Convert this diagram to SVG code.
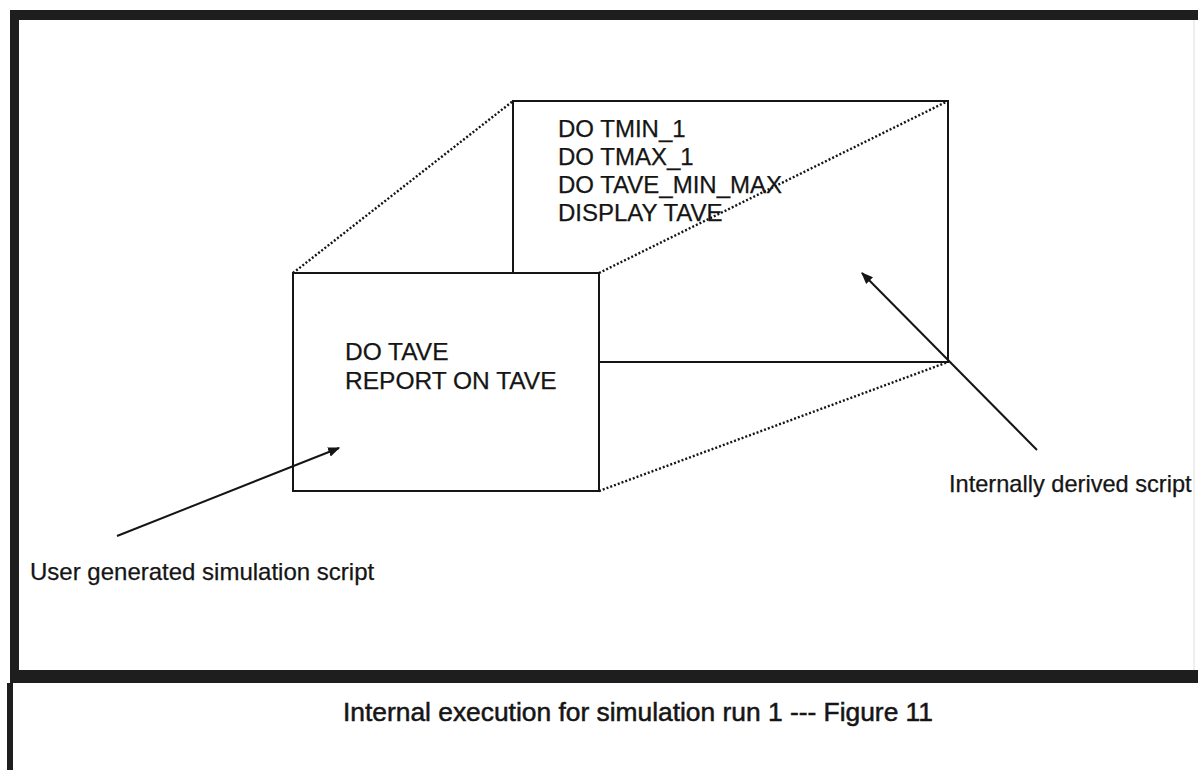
<svg xmlns="http://www.w3.org/2000/svg" width="1198" height="770" viewBox="0 0 1198 770">
<style>
  .frame { fill: #1e1e1e; }
  .solid { stroke: #151515; stroke-width: 2; fill: none; }
  .dot { stroke: #151515; stroke-width: 2.4; fill: none; stroke-dasharray: 2 2; }
  .arrow { stroke: #151515; stroke-width: 2; fill: none; marker-end: url(#ah); }
  .t { font-family: "Liberation Sans", Arial, sans-serif; font-size: 24px; fill: #151515; stroke: #151515; stroke-width: 0.25; }
  .cap { font-family: "Liberation Sans", Arial, sans-serif; font-size: 25px; fill: #151515; stroke: #151515; stroke-width: 0.5; }
</style>
<defs>
  <marker id="ah" viewBox="0 0 10 10" refX="9" refY="5" markerWidth="6" markerHeight="6" markerUnits="strokeWidth" orient="auto">
    <path d="M0,1 L10,5 L0,9 Z" fill="#151515"/>
  </marker>
</defs>
<rect width="1198" height="770" fill="#ffffff"/>
<g id="border">
  <rect class="frame" x="10" y="10" width="1188" height="10"/>
  <rect class="frame" x="10" y="10" width="9" height="673"/>
  <rect class="frame" x="10" y="670" width="1188" height="13"/>
  <rect class="frame" x="7" y="683" width="6" height="87"/>
  <line x1="1194" y1="20" x2="1194" y2="670" stroke="#dddddd" stroke-width="1"/>
</g>
<g id="connectors">
  <line class="dot" x1="293" y1="273" x2="513" y2="101"/>
  <line class="dot" x1="599" y1="273" x2="948" y2="101"/>
  <line class="dot" x1="599" y1="491" x2="948" y2="362"/>
  <line class="arrow" x1="1037" y1="450" x2="862" y2="273"/>
  <line class="arrow" x1="117" y1="536" x2="339" y2="448"/>
</g>
<g id="internal-script">
  <polyline class="solid" points="513,273 513,101 948,101 948,362 599,362"/>
  <text class="t" x="558" y="137">DO TMIN_1</text>
  <text class="t" x="558" y="165">DO TMAX_1</text>
  <text class="t" x="558" y="193">DO TAVE_MIN_MAX</text>
  <text class="t" x="558" y="221">DISPLAY TAVE</text>
</g>
<g id="user-script">
  <rect class="solid" x="293" y="273" width="306" height="218" fill="#ffffff"/>
  <text class="t" x="345" y="360" style="font-size:24.5px">DO TAVE</text>
  <text class="t" x="345" y="389" style="font-size:24.5px">REPORT ON TAVE</text>
</g>
<g id="labels">
  <text class="t" x="949" y="492" style="font-size:23.6px">Internally derived script</text>
  <text class="t" x="30" y="580">User generated simulation script</text>
</g>
<g id="caption">
  <text class="cap" x="343" y="721" textLength="590" lengthAdjust="spacingAndGlyphs">Internal execution for simulation run 1 --- Figure 11</text>
</g>
</svg>
